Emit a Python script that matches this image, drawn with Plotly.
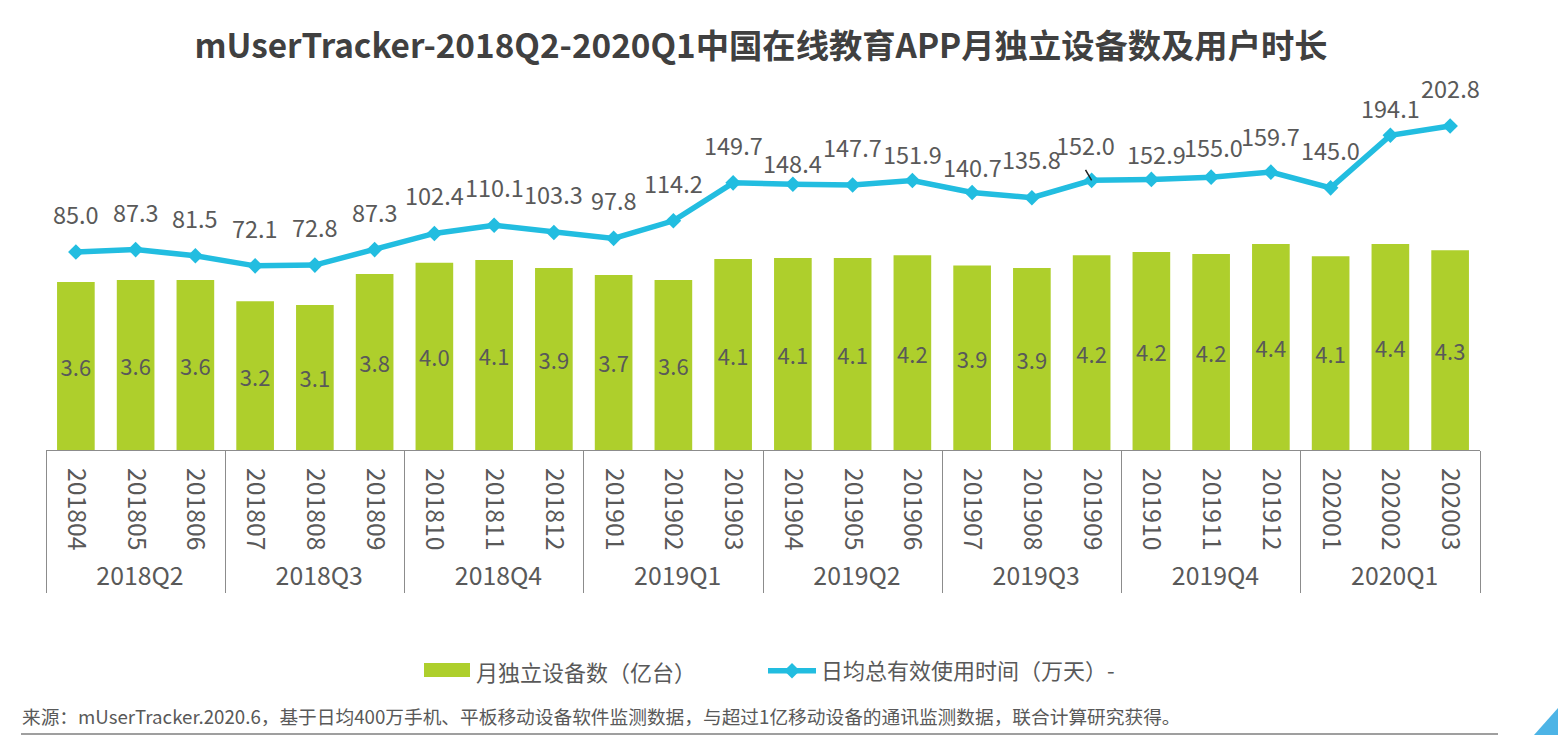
#!/usr/bin/env python3

import plotly.graph_objects as go

months = ["201804", "201805", "201806", "201807", "201808", "201809",
          "201810", "201811", "201812", "201901", "201902", "201903",
          "201904", "201905", "201906", "201907", "201908", "201909",
          "201910", "201911", "201912", "202001", "202002", "202003"]
quarters = ["2018Q2"] * 3 + ["2018Q3"] * 3 + ["2018Q4"] * 3 + ["2019Q1"] * 3 \
    + ["2019Q2"] * 3 + ["2019Q3"] * 3 + ["2019Q4"] * 3 + ["2020Q1"] * 3

# bar heights, labels round them to one decimal
devices = [3.59, 3.63, 3.63, 3.18, 3.10, 3.76, 4.00, 4.06, 3.89, 3.74, 3.63, 4.08,
           4.10, 4.10, 4.16, 3.94, 3.89, 4.16, 4.23, 4.19, 4.40, 4.14, 4.40, 4.27]
usage = [85.0, 87.3, 81.5, 72.1, 72.8, 87.3, 102.4, 110.1, 103.3, 97.8, 114.2, 149.7,
         148.4, 147.7, 151.9, 140.7, 135.8, 152.0, 152.9, 155.0, 159.7, 145.0, 194.1, 202.8]

# the labels on the line sit at uneven heights in the original
label_lift = [38, 38, 38, 38, 38, 38, 38, 38, 38, 38, 38, 38,
              21, 38, 26, 25, 39, 35, 25, 30, 36, 38, 27, 38]
label_nudge = [0] * 17 + [-6, 5, 2, 0, 0, 0, 0]

FONT = "Noto Sans CJK SC"
GREY = "#595959"
GREEN = "#aecf2c"
BLUE = "#22bde0"

# plot area in page pixels
LEFT, RIGHT, TOP, BOTTOM = 46, 1480, 80, 450


def px(x):
    return (x - LEFT) / (RIGHT - LEFT)


def py(y):
    return (BOTTOM - y) / (BOTTOM - TOP)


fig = go.Figure()

fig.add_trace(go.Bar(
    x=[quarters, months], y=devices, name="月独立设备数（亿台）", showlegend=False,
    marker=dict(color=GREEN, line=dict(width=0)),
    texttemplate="%{y:.1f}", textposition="inside", insidetextanchor="middle",
    textangle=0, constraintext="none",
    textfont=dict(family=FONT, size=22, color=GREY), cliponaxis=False,
))
fig.add_trace(go.Scatter(
    x=[quarters, months], y=usage, yaxis="y2", name="日均总有效使用时间（万天）-",
    mode="lines+markers", showlegend=True,
    line=dict(color=BLUE, width=5.5),
    marker=dict(symbol="diamond", size=12, color=BLUE),
))

for i, (val, lift, nudge) in enumerate(zip(usage, label_lift, label_nudge)):
    fig.add_annotation(x=i, y=val, xref="x", yref="y2", text=f"{val:.1f}", showarrow=False,
                       yshift=lift, xshift=nudge, font=dict(family=FONT, size=23.5, color=GREY))

# little leader line under the 152.0 label
fig.add_annotation(x=months.index("201909"), y=usage[months.index("201909")], xref="x", yref="y2",
                   text="", showarrow=True, arrowhead=0, arrowwidth=1.5, arrowcolor="#222222",
                   ax=-7, ay=-12, standoff=0)

# the bar legend key is a wide flat block in the original, plotly's own is a small square
fig.add_shape(type="rect", xref="paper", yref="paper", x0=px(424), x1=px(470),
              y0=py(677), y1=py(663), line=dict(width=0), fillcolor=GREEN)
fig.add_annotation(x=px(474), y=py(671), xref="paper", yref="paper", xanchor="left",
                   yanchor="middle", showarrow=False, text="月独立设备数（亿台）",
                   font=dict(family=FONT, size=22, color=GREY))

fig.add_annotation(x=px(20), y=py(715), xref="paper", yref="paper", xanchor="left",
                   yanchor="middle", showarrow=False, align="left",
                   text="来源：mUserTracker.2020.6，基于日均400万手机、平板移动设备软件监测数据，"
                        "与超过1亿移动设备的通讯监测数据，联合计算研究获得。",
                   font=dict(family=FONT, size=18.7, color=GREY))

fig.add_shape(type="line", xref="paper", yref="paper", x0=px(21), x1=px(1498),
              y0=py(734), y1=py(734), line=dict(color="#7f7f7f", width=1.5))
fig.add_shape(type="path", xref="paper", yref="paper", line=dict(width=0), fillcolor="#4db4e6",
              path=f"M {px(1534)} {py(735)} L {px(1558)} {py(708)} L {px(1558)} {py(735)} Z")

fig.update_layout(
    width=1558, height=735,
    margin=dict(l=LEFT, r=1558 - RIGHT, t=TOP, b=735 - BOTTOM),
    paper_bgcolor="white", plot_bgcolor="white",
    font=dict(family=FONT, color=GREY),
    title=dict(text="mUserTracker-2018Q2-2020Q1中国在线教育APP月独立设备数及用户时长",
               x=761 / 1558, xanchor="center", y=1 - 46 / 735, yanchor="middle",
               font=dict(family=FONT, size=33.3, weight="bold", color="#404040")),
    bargap=0.37,
    showlegend=True,
    legend=dict(orientation="h", xref="container", yref="container",
                x=763 / 1558, xanchor="left", y=1 - 671 / 735, yanchor="middle",
                itemwidth=48, font=dict(family=FONT, size=22, color=GREY),
                traceorder="normal", bgcolor="rgba(0,0,0,0)"),
    xaxis=dict(type="multicategory", range=[-0.5, 23.5], tickangle=90,
               showline=True, linecolor="#8c8c8c", linewidth=1,
               ticks="", showdividers=True, dividercolor="#8c8c8c", dividerwidth=1,
               ticklabelstandoff=12,
               tickfont=dict(family=FONT, size=24.8, color=GREY)),
    yaxis=dict(range=[0, 7.906], visible=False),
    yaxis2=dict(range=[-100, 245.8], overlaying="y", side="right", visible=False),
)

fig.write_html("out.html", config=dict(displayModeBar=False),
               post_script="document.body.style.margin='0';")
